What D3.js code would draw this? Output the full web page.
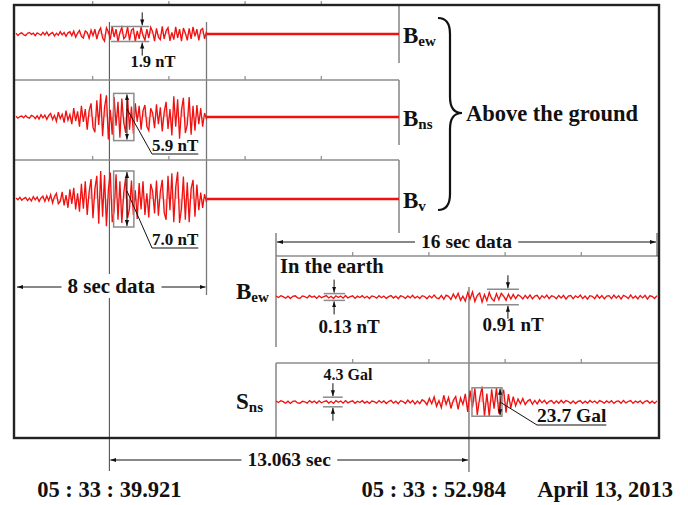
<!DOCTYPE html>
<html>
<head>
<meta charset="utf-8">
<script src="https://cdn.jsdelivr.net/npm/d3@7"></script>
<style>
  body { margin: 0; background: #fff; }
  svg text { font-family: "Liberation Serif", "Times New Roman", serif; font-weight: bold; fill: #111; }
</style>
</head>
<body>
<svg id="chart" width="688" height="505"></svg>
<script>
// ---- data ----
const topStart = 36.0;      // s after 05:33, start of the 8 sec window
const botStart = 44.88;     // s after 05:33, start of the 16 sec window
const eventTimes = [39.921, 52.984];
const eventLabels = ["05 : 33 : 39.921", "05 : 33 : 52.984"];
const dateLabel = "April 13, 2013";
const topWindow = 16, topData = 8, botWindow = 16;
const tickTimes = [3.2, 6.4, 9.6, 12.8];

const topNames = [["B", "ew"], ["B", "ns"], ["B", "v"]];
const topAmps = [1.9, 5.9, 7.0];            // nT peak to peak
const earthAmps = [0.13, 0.91];             // nT
const snsAmps = [4.3, 23.7];                // Gal

// above the ground, nT, 100 samples over 8 sec
const bewTop = [0.1,-0.2,0.05,0.15,-0.1,-0.2,0.1,0.2,-0.05,0.1,-0.2,0.15,0.0,-0.15,0.2,-0.1,0.25,-0.2,0.05,0.2,
  -0.25,0.1,-0.15,0.3,-0.1,0.2,-0.3,0.15,0.3,-0.2,
  0.35,-0.4,0.1,0.45,-0.3,-0.5,0.4,0.2,-0.55,0.5,-0.2,0.6,-0.65,0.3,0.75,-0.5,-0.9,0.8,0.3,-0.7,
  0.95,-0.4,0.6,-1.0,0.2,0.85,-0.6,-0.3,0.9,-0.8,0.5,0.7,-0.95,0.4,-0.6,0.9,-0.2,-0.8,0.6,-0.5,
  0.85,0.3,-0.9,0.7,-0.4,-0.7,0.95,-0.6,0.4,0.8,-0.85,0.2,-0.7,0.9,-0.5,0.6,-0.9,0.75,0.1,-0.8,
  0.7,-0.6,0.9,-0.3,0.6,-0.8,0.5,0.7,-0.6,0.3];
const bnsTop = [0.1,-0.15,0.05,0.12,-0.1,0.2,-0.05,-0.15,0.2,0.1,-0.2,0.15,-0.25,0.3,-0.1,0.25,-0.3,0.2,
  0.45,-0.3,0.2,-0.55,0.6,-0.2,0.35,-0.7,0.8,-0.4,0.3,-0.9,1.1,-0.5,0.7,-1.2,
  1.4,-0.6,1.0,-1.6,0.8,1.7,-1.3,-1.9,2.1,-1.0,
  2.9,-2.4,1.2,2.7,-2.8,0.9,-2.2,2.5,-1.1,1.9,-2.6,2.3,-0.7,-2.0,2.4,-1.6,1.3,-2.1,1.7,-0.6,1.4,
  -1.6,0.8,1.5,-1.2,-1.7,1.1,0.5,-1.4,1.6,-0.9,1.2,-1.8,0.6,1.9,-1.5,1.0,
  -2.3,2.6,-1.2,2.2,-2.7,0.9,2.4,-2.0,-1.0,2.5,-2.2,1.4,-1.7,
  1.5,-0.9,1.1,-1.2,0.5,-0.3];
const bvTop = [0.12,-0.1,0.2,-0.15,0.05,0.2,-0.2,0.1,-0.25,0.3,-0.1,0.25,-0.3,0.15,0.35,-0.3,0.4,-0.2,
  0.55,-0.5,0.3,0.7,-0.6,-0.3,0.9,-0.8,0.5,-1.1,1.2,-0.6,1.4,-1.3,0.7,-1.6,
  1.9,-1.2,2.2,-2.0,0.9,2.5,-2.4,1.3,2.9,-3.1,
  3.5,-2.2,3.0,-3.4,1.2,3.3,-2.9,-1.5,3.1,-2.6,2.2,-3.0,0.8,2.7,-2.4,-1.2,2.3,-2.0,1.1,-2.5,2.0,
  -1.3,2.2,-2.0,0.7,-2.3,1.9,1.0,-1.8,2.3,-2.1,0.9,2.4,-1.7,-2.6,2.9,-1.4,
  3.2,-2.9,1.5,3.4,-3.0,-1.2,2.8,-2.6,2.1,-2.9,1.3,2.4,-2.2,
  1.8,-1.4,0.8,-1.1,0.6,-0.4];

// in the earth, 160 samples over 16 sec
const bewEarth = [0.06,-0.03,0.08,0.02,-0.07,0.05,-0.09,0.04,0.07,-0.05,-0.08,0.06,0.03,-0.06,0.09,-0.02,0.05,-0.08,0.07,-0.04,
  0.02,0.08,-0.06,0.04,-0.09,0.07,-0.03,0.06,-0.07,0.09,-0.05,0.02,0.07,-0.08,0.05,-0.03,0.08,-0.06,0.04,-0.09,
  0.06,0.03,-0.07,0.08,-0.04,0.06,-0.08,0.02,0.09,-0.06,0.05,-0.1,0.07,0.03,-0.08,0.06,-0.05,0.1,-0.07,0.04,
  -0.09,0.08,0.03,-0.1,0.07,-0.05,0.12,-0.06,-0.1,0.09,-0.13,0.11,0.04,-0.15,0.18,-0.08,0.22,-0.2,0.05,-0.25,
  0.26,-0.12,0.3,-0.27,0.1,0.24,-0.3,0.15,-0.22,0.28,-0.1,-0.24,0.2,-0.16,0.22,0.05,-0.2,0.17,-0.12,0.15,
  -0.1,0.13,0.04,-0.12,0.1,-0.08,0.12,-0.11,0.06,0.1,-0.12,0.08,-0.05,0.11,-0.1,0.07,0.03,-0.1,0.09,-0.06,
  0.1,-0.12,0.05,0.09,-0.1,0.07,-0.04,0.11,-0.09,0.06,-0.12,0.08,0.04,-0.1,0.12,-0.07,0.09,-0.11,0.05,0.08,
  -0.1,0.11,-0.06,0.08,-0.12,0.1,0.03,-0.09,0.12,-0.08,0.06,-0.11,0.09,-0.05,0.1,-0.12,0.07,0.04,-0.09,0.08];
const snsEarth = [0.9,-0.4,1.1,0.3,-1.0,0.7,-1.2,0.5,0.9,-0.8,-1.1,0.6,0.2,-0.9,1.2,-0.5,0.8,-1.1,1.0,-0.6,
  0.4,1.0,-0.9,0.6,-1.2,1.1,-0.3,0.8,-1.0,1.2,-0.7,0.3,1.0,-1.1,0.6,-0.4,1.1,-0.9,0.5,-1.2,
  0.8,0.3,-1.0,1.2,-0.6,0.9,-1.3,0.4,1.4,-1.0,0.7,-1.5,1.1,0.4,-1.3,1.6,-0.8,1.3,-1.7,0.9,
  -1.4,2.0,0.6,-2.3,3.2,-1.5,4.4,-3.6,1.2,-4.8,5.6,-2.0,3.8,-5.4,1.5,4.6,-6.2,3.4,-2.1,6.8,
  -8.2,9.6,-4.5,11.5,-10.8,3.5,12.8,-11.9,7.0,-12.2,10.6,-5.5,11.8,-9.7,4.0,10.2,-8.8,6.5,-5.2,4.4,
  -3.2,2.6,-1.4,2.9,-2.2,0.8,2.1,-1.9,1.3,-1.6,1.9,-0.7,1.4,-1.5,0.6,1.2,-1.3,0.9,-1.1,1.4,
  -0.8,1.2,0.4,-1.1,0.9,-1.3,0.5,1.0,-1.2,0.7,-0.9,1.3,-0.4,0.8,-1.1,1.2,0.3,-1.0,0.9,-0.6,
  1.1,-1.2,0.5,0.9,-1.0,1.3,-0.7,0.4,1.2,-1.1,0.8,-0.5,1.0,-1.3,0.6,1.1,-0.9,0.7,-1.2,0.9];

// ---- drawing ----
const svg = d3.select("#chart");
const gray = "#8c8c8c", red = "#f01010";

svg.append("defs").append("marker")
    .attr("id", "ah")
    .attr("viewBox", "0 0 10 10")
    .attr("refX", 10).attr("refY", 5)
    .attr("markerWidth", 6).attr("markerHeight", 6)
    .attr("orient", "auto-start-reverse")
    .append("path").attr("d", "M0,1.5 L10,5 L0,8.5 z").attr("fill", "#111");

const xTop = d3.scaleLinear().domain([0, topWindow]).range([16, 397]);
const xBot = d3.scaleLinear().domain([0, botWindow]).range([276, 657]);

const frame = {left: 14, top: 5, right: 659, bottom: 438};

const base = svg.append("g");
const traces = svg.append("g");
const ann = svg.append("g");

function tickAxis(scale, y, x0, x1) {
    base.append("line")
        .attr("x1", x0).attr("x2", x1).attr("y1", y).attr("y2", y)
        .attr("stroke", gray).attr("stroke-width", 1.6);
    const ax = d3.axisBottom(scale).tickValues(tickTimes).tickSize(-4).tickSizeOuter(0).tickFormat("");
    const g = base.append("g").attr("transform", `translate(0,${y})`).call(ax);
    g.select(".domain").remove();
    g.selectAll(".tick line").attr("stroke", gray).attr("stroke-width", 1.2);
}

function vline(x, y1, y2, color, w) {
    return base.append("line").attr("x1", x).attr("x2", x).attr("y1", y1).attr("y2", y2)
        .attr("stroke", color).attr("stroke-width", w);
}

function drawTrace(data, span, x, y, fillOp) {
    const pts = data.map((v, i) => [i * span / (data.length - 1), v]);
    traces.append("path").datum(pts)
        .attr("d", d3.area().x(d => x(d[0])).y0(y(0)).y1(d => y(d[1])))
        .attr("fill", "#ff7a7a").attr("fill-opacity", fillOp);
    traces.append("path").datum(pts)
        .attr("d", d3.line().x(d => x(d[0])).y(d => y(d[1])))
        .attr("fill", "none").attr("stroke", red).attr("stroke-width", 1.3);
}

// event lines
const e1x = xTop(eventTimes[0] - topStart);
const e2x = xBot(eventTimes[1] - botStart);
vline(e1x, 22, 471, "#444", 1);
vline(xTop(topData), 22, 295, "#777", 1.3);
vline(e2x, 287, 472, "#444", 1);

// ---- above the ground panels ----
const topPanels = [
    {data: bewTop, c: 34, top: 5, bottom: 63},
    {data: bnsTop, c: 117, top: 80, bottom: 145},
    {data: bvTop, c: 199, top: 160, bottom: 233}
];
topPanels.forEach((p, k) => {
    p.y = d3.scaleLinear().domain([-5, 5]).range([p.c + 40, p.c - 40]);
    tickAxis(xTop, p.top, frame.left, xTop(topWindow) + 2);
    vline(xTop(topWindow) + 2, p.top, p.bottom, gray, 1.6);
    drawTrace(p.data, topData, xTop, p.y, 0.45);
    traces.append("line")
        .attr("x1", xTop(topData)).attr("x2", xTop(topWindow) + 2)
        .attr("y1", p.y(0)).attr("y2", p.y(0))
        .attr("stroke", red).attr("stroke-width", 2.6);
    const t = ann.append("text").attr("x", 403).attr("y", p.c + 9).style("font-size", "23px").text(topNames[k][0]);
    t.append("tspan").attr("dy", 3).style("font-size", "15px").text(topNames[k][1]);
});

// brace + caption
ann.append("path")
    .attr("d", "M438,18 Q450,18 450,34 L450,97 Q450,113 462,113 Q450,113 450,129 L450,194 Q450,210 438,210")
    .attr("fill", "none").attr("stroke", "#111").attr("stroke-width", 2.2);
ann.append("text").attr("x", 466).attr("y", 121).style("font-size", "22.5px").text("Above the ground");

// ---- in the earth panels ----
const yE = d3.scaleLinear().domain([-1, 1]).range([297 + 17, 297 - 17]);
const yS = d3.scaleLinear().domain([-30, 30]).range([402 + 36, 402 - 36]);
tickAxis(xBot, 256, xBot(0), frame.right);
vline(xBot(0), 256, 347, gray, 1.6);
tickAxis(xBot, 363, xBot(0), frame.right);
vline(xBot(0), 363, frame.bottom, gray, 1.6);
drawTrace(bewEarth, botWindow, xBot, yE, 0.3);
drawTrace(snsEarth, botWindow, xBot, yS, 0.45);

ann.append("text").attr("x", 280).attr("y", 273).style("font-size", "20.5px").text("In the earth");
const be = ann.append("text").attr("x", 236).attr("y", 299).style("font-size", "23px").text("B");
be.append("tspan").attr("dy", 3).style("font-size", "15px").text("ew");
const sn = ann.append("text").attr("x", 236).attr("y", 409).style("font-size", "23px").text("S");
sn.append("tspan").attr("dy", 3).style("font-size", "15px").text("ns");

// ---- amplitude marks ----
function pinch(x0, x1, yT, yB, xa, len) {
    [yT, yB].forEach(yy => ann.append("line").attr("x1", x0).attr("x2", x1).attr("y1", yy).attr("y2", yy)
        .attr("stroke", gray).attr("stroke-width", 1.5));
    ann.append("line").attr("x1", xa).attr("x2", xa).attr("y1", yT - len).attr("y2", yT - 1)
        .attr("stroke", "#111").attr("marker-end", "url(#ah)");
    ann.append("line").attr("x1", xa).attr("x2", xa).attr("y1", yB + len).attr("y2", yB + 1)
        .attr("stroke", "#111").attr("marker-end", "url(#ah)");
}
function bracket(x0, x1, yT, yB, xa) {
    ann.append("rect").attr("x", x0).attr("y", yT).attr("width", x1 - x0).attr("height", yB - yT)
        .attr("fill", "none").attr("stroke", gray).attr("stroke-width", 1.5);
    ann.append("line").attr("x1", xa).attr("x2", xa).attr("y1", yT + 1).attr("y2", yB - 1)
        .attr("stroke", "#111").attr("marker-start", "url(#ah)").attr("marker-end", "url(#ah)");
}
function leader(xs, ys, xl, yl, label, size) {
    const t = ann.append("text").attr("x", xl).attr("y", yl).style("font-size", size + "px").text(label);
    const w = t.node().getComputedTextLength();
    ann.append("line").attr("x1", xs).attr("y1", ys).attr("x2", xl).attr("y2", yl + 3).attr("stroke", "#111");
    ann.append("line").attr("x1", xl).attr("x2", xl + w).attr("y1", yl + 3).attr("y2", yl + 3)
        .attr("stroke", "#111").attr("stroke-width", 1.2);
}
function label(x, y, txt, size) {
    ann.append("text").attr("x", x).attr("y", y).attr("text-anchor", "middle").style("font-size", size + "px").text(txt);
}

// 1.9 nT
{
    const p = topPanels[0], a = topAmps[0] / 2;
    pinch(xTop(3.98), xTop(5.6), p.y(a), p.y(-a), xTop(5.3), 14);
    label(xTop(5.75), 67, topAmps[0].toFixed(1) + " nT", 16.5);
}
// 5.9 nT and 7.0 nT
[1, 2].forEach(k => {
    const p = topPanels[k], a = topAmps[k] / 2;
    bracket(xTop(4.1), xTop(4.95), p.y(a), p.y(-a), xTop(4.66));
    leader(xTop(4.66), p.c - 8, 152, k === 1 ? 151 : 245, topAmps[k].toFixed(1) + " nT", 17);
});
// 0.13 nT, 0.91 nT
{
    const a0 = Math.max(earthAmps[0] / 2, 0.2);
    pinch(xBot(2.0), xBot(2.9), yE(a0), yE(-a0), xBot(2.44), 14);
    label(349, 333, earthAmps[0] + " nT", 19);
    const a1 = earthAmps[1] / 2;
    pinch(xBot(8.86), xBot(10.2), yE(a1), yE(-a1), xBot(9.74), 14);
    label(513, 331, earthAmps[1] + " nT", 19);
}
// 4.3 Gal, 23.7 Gal
{
    const a0 = Math.max(snsAmps[0] / 2, 4);
    pinch(xBot(1.97), xBot(2.8), yS(a0), yS(-a0), xBot(2.39), 14);
    label(348, 380, snsAmps[0] + " Gal", 16);
    const a1 = snsAmps[1] / 2;
    bracket(xBot(8.23), xBot(9.49), yS(a1), yS(-a1), xBot(9.41));
    leader(xBot(9.41), 402, 537, 422, snsAmps[1] + " Gal", 19.5);
}

// ---- dimension arrows ----
function span(x0, x1, y, txt, size) {
    const t = ann.append("text").attr("x", (x0 + x1) / 2).attr("y", y + 6)
        .attr("text-anchor", "middle").style("font-size", size + "px").text(txt);
    const b = t.node().getBBox();
    ann.insert("rect", "text").attr("x", b.x - 6).attr("y", b.y).attr("width", b.width + 12).attr("height", b.height)
        .attr("fill", "#fff");
    ann.append("line").attr("x1", b.x - 6).attr("x2", x0 + 1).attr("y1", y).attr("y2", y)
        .attr("stroke", "#111").attr("marker-end", "url(#ah)");
    ann.append("line").attr("x1", b.x + b.width + 6).attr("x2", x1 - 1).attr("y1", y).attr("y2", y)
        .attr("stroke", "#111").attr("marker-end", "url(#ah)");
}
span(xTop(0), xTop(topData), 287, topData + " sec data", 21);
vline(xBot(0), 233, 256, "#444", 1);
vline(xBot(botWindow), 233, 256, "#444", 1);
span(xBot(0), xBot(botWindow), 242, botWindow + " sec data", 19.5);
span(e1x, e2x, 460, (eventTimes[1] - eventTimes[0]).toFixed(3) + " sec", 19.5);

// outer frame
svg.append("rect")
    .attr("x", frame.left).attr("y", frame.top)
    .attr("width", frame.right - frame.left).attr("height", frame.bottom - frame.top)
    .attr("fill", "none").attr("stroke", "#222").attr("stroke-width", 2.4);

// time stamps
ann.append("text").attr("x", e1x).attr("y", 497).attr("text-anchor", "middle").style("font-size", "22.5px").text(eventLabels[0]);
ann.append("text").attr("x", e2x + 37).attr("y", 497).attr("text-anchor", "end").style("font-size", "22.5px").text(eventLabels[1]);
ann.append("text").attr("x", 673).attr("y", 497).attr("text-anchor", "end").style("font-size", "22.5px").text(dateLabel);
</script>
</body>
</html>
